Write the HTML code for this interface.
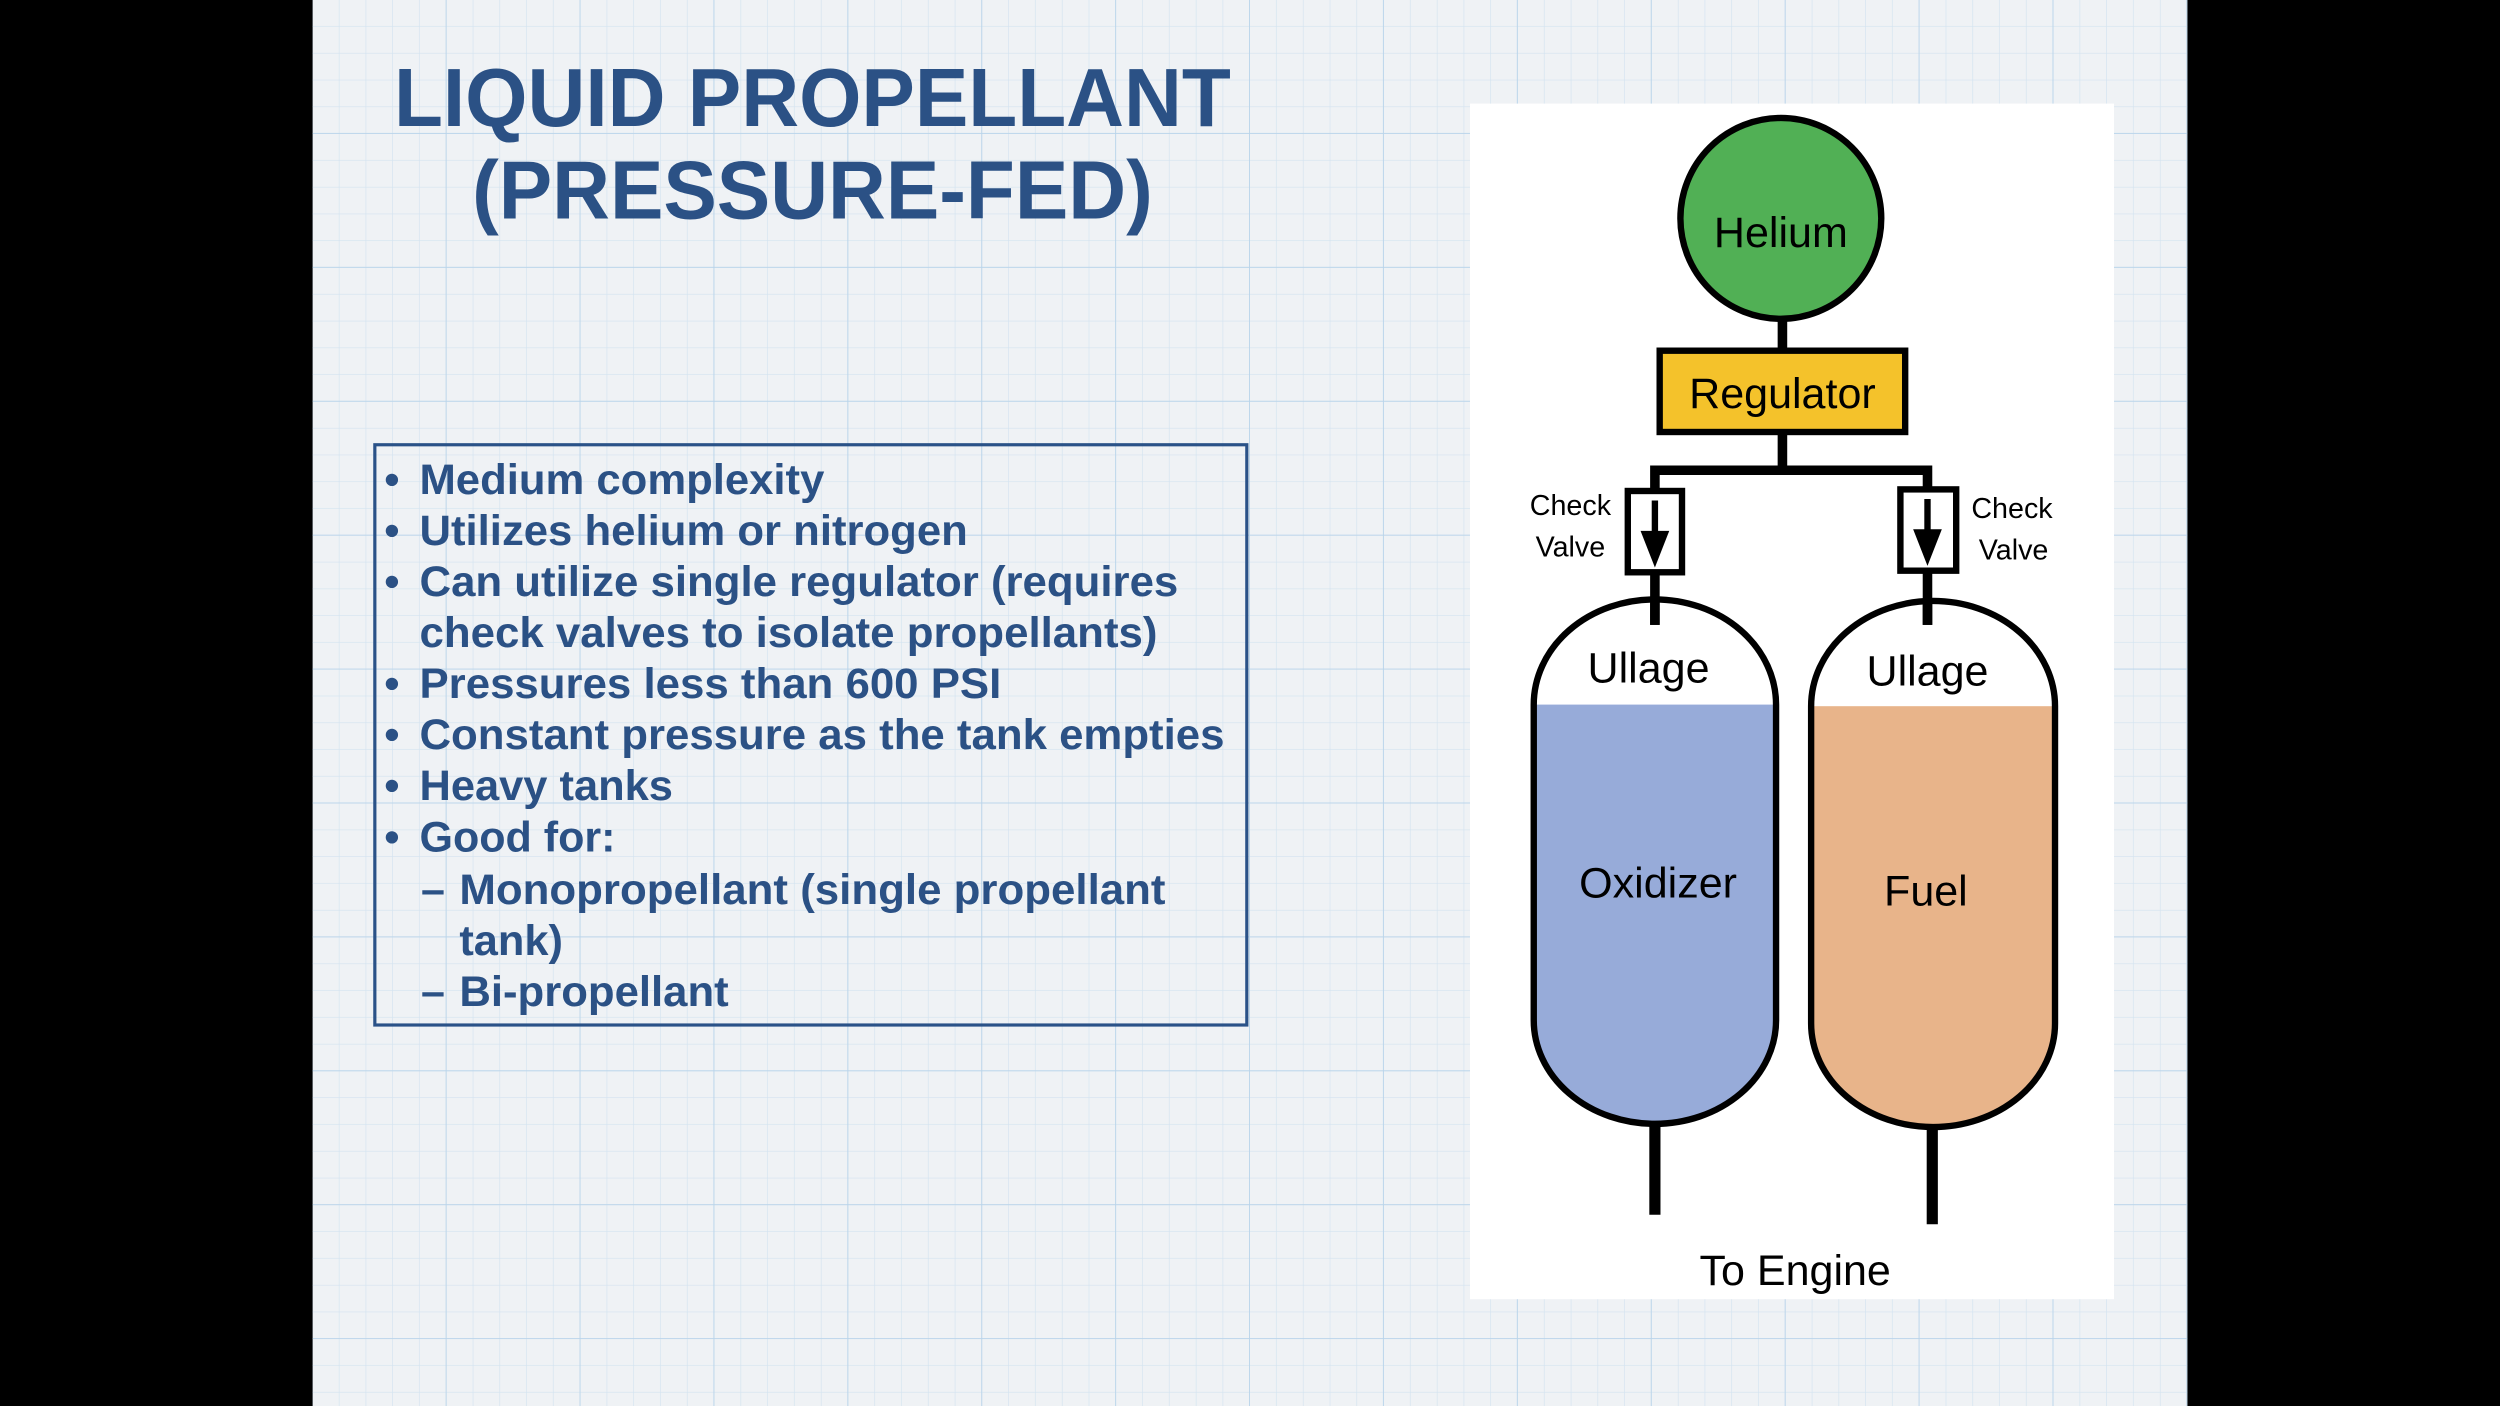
<!DOCTYPE html>
<html><head><meta charset="utf-8"><style>html,body{margin:0;padding:0;background:#000;}svg{display:block}</style></head>
<body>
<svg width="2500" height="1406" viewBox="0 0 1568 882" xmlns="http://www.w3.org/2000/svg">
<defs>
<pattern id="minor" width="16.8" height="16.8" patternUnits="userSpaceOnUse" x="196" y="0">
<path d="M16.8 0V16.8H0" fill="none" stroke="#d3e3f0" stroke-width="0.8"/>
</pattern>
<pattern id="major" width="84" height="84" patternUnits="userSpaceOnUse" x="196" y="0">
<path d="M84 0V84H0" fill="none" stroke="#b9d4ea" stroke-width="1.1"/>
</pattern>
<clipPath id="lt"><path d="M962,442 A76,66 0 0 1 1114,442 V640 A76,65 0 0 1 962,640 Z"/></clipPath>
<clipPath id="rt"><path d="M1136,443 A76.5,66 0 0 1 1289,443 V642 A76.5,65 0 0 1 1136,642 Z"/></clipPath>
</defs>
<rect x="0" y="0" width="1568" height="882" fill="#000"/>
<rect x="196" y="0" width="1176" height="882" fill="#eff2f5"/>
<rect x="196" y="0" width="1176" height="882" fill="url(#minor)"/>
<rect x="196" y="0" width="1176" height="882" fill="url(#major)"/>

<g font-family="Liberation Sans, sans-serif" font-weight="bold" fill="#2b5185">
<text x="247" y="79" font-size="52" textLength="525" lengthAdjust="spacingAndGlyphs">LIQUID PROPELLANT</text>
<text x="296" y="137" font-size="52" textLength="427" lengthAdjust="spacingAndGlyphs">(PRESSURE-FED)</text>
</g>

<rect x="235" y="279" width="547" height="364" fill="none" stroke="#2a5288" stroke-width="2"/>
<g font-family="Liberation Sans, sans-serif" font-weight="bold" fill="#2b5185" font-size="27">
<text x="241" y="310">•</text>
<text x="263" y="310" textLength="254" lengthAdjust="spacingAndGlyphs">Medium complexity</text>
<text x="241" y="342">•</text>
<text x="263" y="342" textLength="344" lengthAdjust="spacingAndGlyphs">Utilizes helium or nitrogen</text>
<text x="241" y="374">•</text>
<text x="263" y="374" textLength="476" lengthAdjust="spacingAndGlyphs">Can utilize single regulator (requires</text>
<text x="263" y="406" textLength="463" lengthAdjust="spacingAndGlyphs">check valves to isolate propellants)</text>
<text x="241" y="438">•</text>
<text x="263" y="438" textLength="365" lengthAdjust="spacingAndGlyphs">Pressures less than 600 PSI</text>
<text x="241" y="470">•</text>
<text x="263" y="470" textLength="505" lengthAdjust="spacingAndGlyphs">Constant pressure as the tank empties</text>
<text x="241" y="502">•</text>
<text x="263" y="502" textLength="159" lengthAdjust="spacingAndGlyphs">Heavy tanks</text>
<text x="241" y="534">•</text>
<text x="263" y="534" textLength="123" lengthAdjust="spacingAndGlyphs">Good for:</text>
<text x="264" y="567">–</text>
<text x="288" y="567" textLength="443" lengthAdjust="spacingAndGlyphs">Monopropellant (single propellant</text>
<text x="288" y="599" textLength="65" lengthAdjust="spacingAndGlyphs">tank)</text>
<text x="264" y="631">–</text>
<text x="288" y="631" textLength="169" lengthAdjust="spacingAndGlyphs">Bi-propellant</text>
</g>

<rect x="922" y="65" width="404" height="750" fill="#fff"/>
<g stroke="#000" stroke-width="4" fill="none">
<line x1="1118" y1="198" x2="1118" y2="221" stroke-width="6"/>
<line x1="1118" y1="270" x2="1118" y2="296" stroke-width="6"/>
<polyline points="1038,310 1038,295 1209,295 1209,309" stroke-width="6"/>
<line x1="1038" y1="358" x2="1038" y2="392" stroke-width="6"/>
<line x1="1209" y1="357" x2="1209" y2="392" stroke-width="6"/>
<line x1="1038" y1="704" x2="1038" y2="762" stroke-width="7"/>
<line x1="1212" y1="706" x2="1212" y2="768" stroke-width="7"/>
</g>
<circle cx="1117" cy="137" r="63" fill="#51b055" stroke="#000" stroke-width="4"/>
<rect x="1041" y="220" width="154" height="51" fill="#f4c22b" stroke="#000" stroke-width="4"/>
<rect x="1021" y="308" width="34" height="51" fill="#fff" stroke="#000" stroke-width="4"/>
<rect x="1192" y="307" width="35" height="51" fill="#fff" stroke="#000" stroke-width="4"/>
<line x1="1038" y1="314" x2="1038" y2="336" stroke="#000" stroke-width="4"/>
<polygon points="1029,333 1047,333 1038,356" fill="#000"/>
<line x1="1209" y1="313" x2="1209" y2="335" stroke="#000" stroke-width="4"/>
<polygon points="1200,332 1218,332 1209,355" fill="#000"/>

<g clip-path="url(#lt)"><rect x="950" y="442" width="180" height="280" fill="#97abd9"/></g>
<g clip-path="url(#rt)"><rect x="1130" y="443" width="180" height="280" fill="#e8b48a"/></g>
<path d="M962,442 A76,66 0 0 1 1114,442 V640 A76,65 0 0 1 962,640 Z" fill="none" stroke="#000" stroke-width="4"/>
<path d="M1136,443 A76.5,66 0 0 1 1289,443 V642 A76.5,65 0 0 1 1136,642 Z" fill="none" stroke="#000" stroke-width="4"/>
<line x1="1038" y1="378" x2="1038" y2="392" stroke="#000" stroke-width="6"/>
<line x1="1209" y1="378" x2="1209" y2="392" stroke="#000" stroke-width="6"/>

<g font-family="Liberation Sans, sans-serif" fill="#000" text-anchor="middle">
<text x="1117" y="155" font-size="27">Helium</text>
<text x="1118" y="256" font-size="27">Regulator</text>
<text x="1034" y="428" font-size="27">Ullage</text>
<text x="1209" y="430" font-size="27">Ullage</text>
<text x="1040" y="563" font-size="27">Oxidizer</text>
<text x="1208" y="568" font-size="27">Fuel</text>
<text x="1126" y="806" font-size="27">To Engine</text>
<text x="985" y="323" font-size="18">Check</text>
<text x="985" y="349" font-size="18">Valve</text>
<text x="1262" y="325" font-size="18">Check</text>
<text x="1263" y="351" font-size="18">Valve</text>
</g>
</svg>
</body></html>
